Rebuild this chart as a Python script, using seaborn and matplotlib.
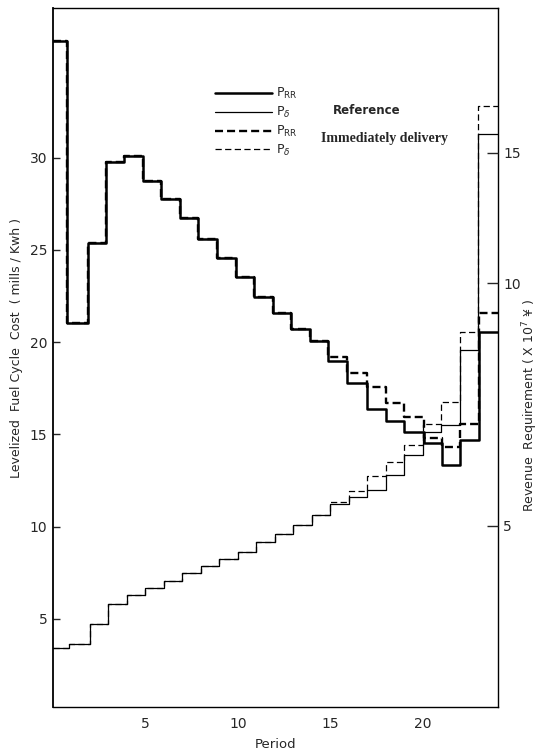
import matplotlib
matplotlib.use("Agg")
import numpy as np
import pandas as pd
import matplotlib.pyplot as plt
import seaborn as sns
from matplotlib.lines import Line2D

# ---- data ----
# period boundaries for the thick (P_RR) curves and the thin (P_delta) curves
edges_rr = [0, 0.77, 1.9, 2.84, 3.86, 4.84, 5.86, 6.84, 7.85, 8.88, 9.92, 10.89,
            11.88, 12.89, 13.92, 14.87, 15.9, 16.98, 18.0, 19.0, 20.04, 21.04,
            22.03, 23.02, 24.04]
edges_pd = [0, 0.85, 2, 3, 4, 5, 6, 7, 8, 9, 10, 11, 12, 13, 14, 15, 16, 17,
            18, 19, 20, 21, 22, 23, 24.04]

prr_reference = [36.3, 21.05, 25.35, 29.78, 30.1, 28.75, 27.76, 26.75, 25.6,
                 24.53, 23.55, 22.47, 21.57, 20.72, 20.07, 19.0, 17.77, 16.38,
                 15.75, 15.15, 14.52, 13.34, 14.7, 20.57]
prr_immediate = [36.3, 21.05, 25.35, 29.78, 30.1, 28.75, 27.76, 26.75, 25.6,
                 24.53, 23.55, 22.47, 21.57, 20.72, 20.07, 19.2, 18.31, 17.56,
                 16.72, 15.93, 14.79, 14.30, 15.55, 21.6]
pd_reference = [3.41, 3.64, 4.73, 5.81, 6.31, 6.68, 7.07, 7.51, 7.85, 8.27,
                8.63, 9.15, 9.62, 10.1, 10.63, 11.25, 11.63, 12.0, 12.8, 13.89,
                15.15, 15.51, 19.58, 31.27]
pd_immediate = [3.41, 3.64, 4.73, 5.81, 6.31, 6.68, 7.07, 7.51, 7.85, 8.27,
                8.63, 9.15, 9.62, 10.1, 10.63, 11.35, 11.95, 12.74, 13.52, 14.43,
                15.55, 16.78, 20.57, 32.8]

x_ticks = [5, 10, 15, 20]
y_ticks = [5, 10, 15, 20, 25, 30]
# right-hand (revenue requirement) tick labels and where they sit on the left scale
rev_tick_labels = ["5", "10", "15"]
rev_tick_at = [10.05, 23.2, 30.25]

legend_labels = [r"P$_{\mathregular{RR}}$", r"P$_{\delta}$",
                 r"P$_{\mathregular{RR}}$", r"P$_{\delta}$"]

# ---- style ----
sns.set_style("white")
plt.rcParams["font.family"] = ["DejaVu Sans"]
plt.rcParams["axes.linewidth"] = 1.0

fig = plt.figure(figsize=(5.42, 7.51), dpi=100)
ax = fig.add_axes([0.0978, 0.0586, 0.8204, 0.9307])


def step_frame(edges, vals):
    return pd.DataFrame({"period": edges, "value": list(vals) + [vals[-1]]})


thin_dash = (0, (5.0, 2.7))
thick_dash = (0, (3.4, 1.7))

specs = [
    (edges_pd, pd_immediate, 0.9, thin_dash),
    (edges_rr, prr_immediate, 1.7, thick_dash),
    (edges_pd, pd_reference, 0.9, "-"),
    (edges_rr, prr_reference, 1.8, "-"),
]
for edges, vals, lw, ls in specs:
    df = step_frame(edges, vals)
    sns.lineplot(data=df, x="period", y="value", ax=ax, estimator=None,
                 sort=False, drawstyle="steps-post", color="black",
                 linewidth=lw, linestyle=ls)

ax.set_xlim(0, 24.04)
ax.set_ylim(0.23, 38.1)
ax.set_xticks(x_ticks)
ax.set_yticks(y_ticks)
ax.tick_params(axis="x", direction="in", length=6, width=1, labelsize=10, pad=7)
ax.tick_params(axis="y", direction="in", length=5, width=1, labelsize=10, pad=4)
ax.grid(False)
for s in ax.spines.values():
    s.set_color("black")
    s.set_linewidth(1.0)
ax.spines["left"].set_linewidth(1.3)

ax.set_xlabel("Period", fontsize=9.5, labelpad=5)
ax.set_ylabel("Levelized  Fuel Cycle  Cost  ( mills / Kwh )", fontsize=9)
ax.yaxis.set_label_coords(-0.068, 0.514)

ax2 = ax.twinx()
ax2.set_ylim(ax.get_ylim())
ax2.set_yticks(rev_tick_at)
ax2.set_yticklabels(rev_tick_labels)
ax2.tick_params(axis="y", direction="in", length=8, width=1, labelsize=10, pad=4)
ax2.grid(False)
ax2.set_ylabel("Revenue  Requirement ( X 10$^7$ ¥ )", fontsize=9, rotation=90)
ax2.yaxis.set_label_coords(1.052, 0.432)
for s in ax2.spines.values():
    s.set_visible(False)

handles = [
    Line2D([], [], color="black", lw=1.8, ls="-"),
    Line2D([], [], color="black", lw=0.9, ls="-"),
    Line2D([], [], color="black", lw=1.7, ls=thick_dash),
    Line2D([], [], color="black", lw=0.9, ls=thin_dash),
]
ax.legend(handles, legend_labels, loc="upper left", bbox_to_anchor=(0.364, 0.888),
          frameon=False, fontsize=9, handlelength=4.6, handletextpad=0.3,
          labelspacing=0.3, borderpad=0, borderaxespad=0)

ax.text(0.63, 0.854, "Reference", transform=ax.transAxes, fontsize=8.5,
        fontweight="bold", va="center")
ax.text(0.603, 0.814, "Immediately delivery", transform=ax.transAxes,
        family=["Liberation Serif", "DejaVu Serif"], fontweight="bold",
        fontsize=10, va="center")

fig.savefig("out.png", dpi=100)
